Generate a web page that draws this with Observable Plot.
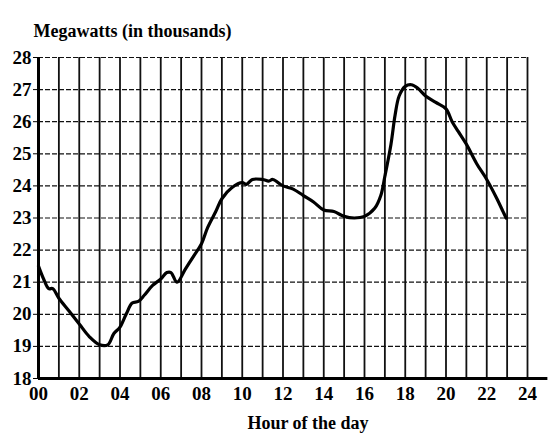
<!DOCTYPE html>
<html>
<head>
<meta charset="utf-8">
<script src="https://cdn.jsdelivr.net/npm/d3@7"></script>
<script src="https://cdn.jsdelivr.net/npm/@observablehq/plot@0.6"></script>
<style>
  body { margin: 0; background: #fff; }
  svg { display: block; }
  svg text { font-family: "Liberation Serif", "Times New Roman", "DejaVu Serif", serif !important; }
</style>
</head>
<body>
<div id="chart"></div>
<script>
const hours = [0, 0.25, 0.5, 0.7, 1, 1.5, 2, 2.5, 3, 3.4, 3.7, 4, 4.3, 4.6, 4.9, 5.2, 5.6, 6, 6.3, 6.5, 6.8, 7.2, 7.6, 8, 8.3, 8.7, 9, 9.5, 10, 10.2, 10.5, 11, 11.3, 11.5, 12, 12.5, 13, 13.5, 14, 14.5, 15, 15.5, 16, 16.5, 16.8, 17, 17.3, 17.5, 17.7, 18, 18.3, 18.6, 19, 19.5, 20, 20.3, 20.6, 21, 21.5, 22, 22.5, 22.8, 22.95];
const megawatts = [21.5, 21.1, 20.8, 20.8, 20.5, 20.1, 19.7, 19.3, 19.05, 19.05, 19.4, 19.6, 20.0, 20.35, 20.4, 20.6, 20.9, 21.1, 21.3, 21.3, 21.0, 21.4, 21.8, 22.2, 22.7, 23.2, 23.6, 23.95, 24.1, 24.05, 24.2, 24.2, 24.15, 24.2, 24.0, 23.9, 23.7, 23.5, 23.25, 23.2, 23.05, 23.0, 23.05, 23.3, 23.7, 24.3, 25.3, 26.2, 26.8, 27.1, 27.15, 27.05, 26.8, 26.6, 26.4, 26.0, 25.7, 25.3, 24.7, 24.2, 23.6, 23.2, 23.0];
const xTicks = [0, 2, 4, 6, 8, 10, 12, 14, 16, 18, 20, 22, 24];
const xTickLabels = ["00", "02", "04", "06", "08", "10", "12", "14", "16", "18", "20", "22", "24"];
const yTicks = [18, 19, 20, 21, 22, 23, 24, 25, 26, 27, 28];
const xGrid = d3.range(0, 25);
const titleText = "Megawatts (in thousands)";
const xLabelText = "Hour of the day";

const data = hours.map((h, i) => ({hour: h, mw: megawatts[i]}));

const chart = Plot.plot({
  width: 555,
  height: 444,
  marginLeft: 38,
  marginRight: 28,
  marginTop: 57,
  marginBottom: 66,
  style: {fontFamily: "'Liberation Serif', serif", color: "#000", background: "#fff"},
  x: {domain: [0, 24], label: null},
  y: {domain: [18, 28], label: null},
  marks: [
    Plot.ruleY(yTicks, {stroke: "#111", strokeWidth: 1.2, strokeDasharray: "5,2"}),
    Plot.ruleX(xGrid, {stroke: "#111", strokeWidth: 1.8}),
    Plot.ruleX([0], {stroke: "#000", strokeWidth: 3}),
    Plot.ruleY([18], {stroke: "#000", strokeWidth: 3, x1: 0, x2: 25}),
    Plot.axisX({ticks: xTicks, tickFormat: (d) => xTickLabels[xTicks.indexOf(d)], tickSize: 0, tickPadding: 8, fontSize: 19, fontWeight: "bold", fontFamily: "Liberation Serif", label: null}),
    Plot.axisY({ticks: yTicks, tickSize: 5, tickPadding: 2, fontSize: 19, fontWeight: "bold", fontFamily: "Liberation Serif", label: null}),
    Plot.line(data, {x: "hour", y: "mw", curve: "catmull-rom", stroke: "#000", strokeWidth: 3.2}),
    Plot.text([titleText], {frameAnchor: "top-left", dx: -5, dy: -33, text: (d) => d, fontSize: 18, fontWeight: "bold", fontFamily: "Liberation Serif", textAnchor: "start"}),
    Plot.text([xLabelText], {frameAnchor: "bottom", dx: 25, dy: 50, text: (d) => d, fontSize: 18, fontWeight: "bold", fontFamily: "Liberation Serif"})
  ]
});
document.getElementById("chart").append(chart);
</script>
</body>
</html>
